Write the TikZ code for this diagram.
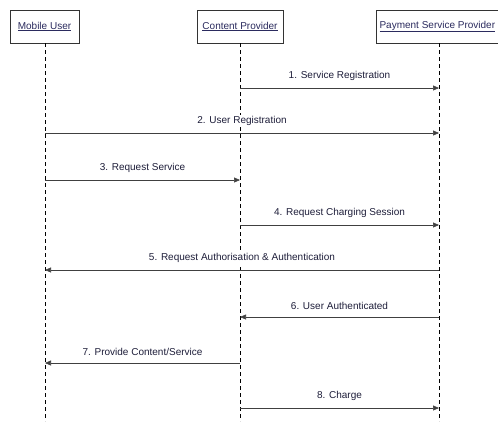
\documentclass[tikz,border=0pt]{standalone}
\usepackage{fontspec}
\setmainfont{Liberation Sans}
\usetikzlibrary{arrows.meta}
\definecolor{hdtext}{HTML}{2B2B5E}
\definecolor{msgtext}{HTML}{1E1E3A}
\begin{document}
\begin{tikzpicture}[x=1pt,y=-1pt,
  actor/.style={draw=black!80,line width=0.7pt,fill=white,minimum height=33pt,inner sep=2pt,
    font=\fontsize{10}{12}\selectfont,text=hdtext},
  lifeline/.style={draw=black,line width=0.8pt,dash pattern=on 4pt off 3pt},
  msg/.style={draw=black!75,line width=0.6pt,-{Triangle[length=6pt,width=5pt]}},
  lbl/.style={font=\fontsize{10}{12}\selectfont,text=msgtext,fill=white,inner sep=1pt}]
\useasboundingbox (0,0) rectangle (498,421);

% participants
\node[actor,minimum width=69pt] (mu) at (44.5,26.5) {\underline{Mobile User}};
\node[actor,minimum width=86pt] (cp) at (240,26.5) {\underline{Content Provider}};
\node[actor,minimum width=122pt,anchor=west] (psp) at (376,26.5) {\underline{Payment Service Provider}};

% lifeline ends
\coordinate (muB) at (45,421);
\coordinate (cpB) at (240,421);
\coordinate (pspB) at (439,421);
\draw[lifeline] (45,43) -- (muB);
\draw[lifeline] (240,43) -- (cpB);
\draw[lifeline] (439,43) -- (pspB);

% message anchor points on the lifelines
\foreach \n/\y in {1/88,2/133,3/180,4/225,5/270,6/317,7/363,8/408}{
  \coordinate (u\n) at (45,\y);
  \coordinate (c\n) at (240,\y);
  \coordinate (p\n) at (439,\y);
}

% messages
\draw[msg] (c1) -- node[lbl,above=6pt] {1. Service Registration} (p1);
\draw[msg] (u2) -- node[lbl,above=6pt] {2. User Registration} (p2);
\draw[msg] (u3) -- node[lbl,above=6pt] {3. Request Service} (c3);
\draw[msg] (c4) -- node[lbl,above=6pt] {4. Request Charging Session} (p4);
\draw[msg] (p5) -- node[lbl,above=6pt] {5. Request Authorisation \& Authentication} (u5);
\draw[msg] (p6) -- node[lbl,above=6pt] {6. User Authenticated} (c6);
\draw[msg] (c7) -- node[lbl,above=6pt] {7. Provide Content/Service} (u7);
\draw[msg] (c8) -- node[lbl,above=6pt] {8. Charge} (p8);
\end{tikzpicture}
\end{document}
